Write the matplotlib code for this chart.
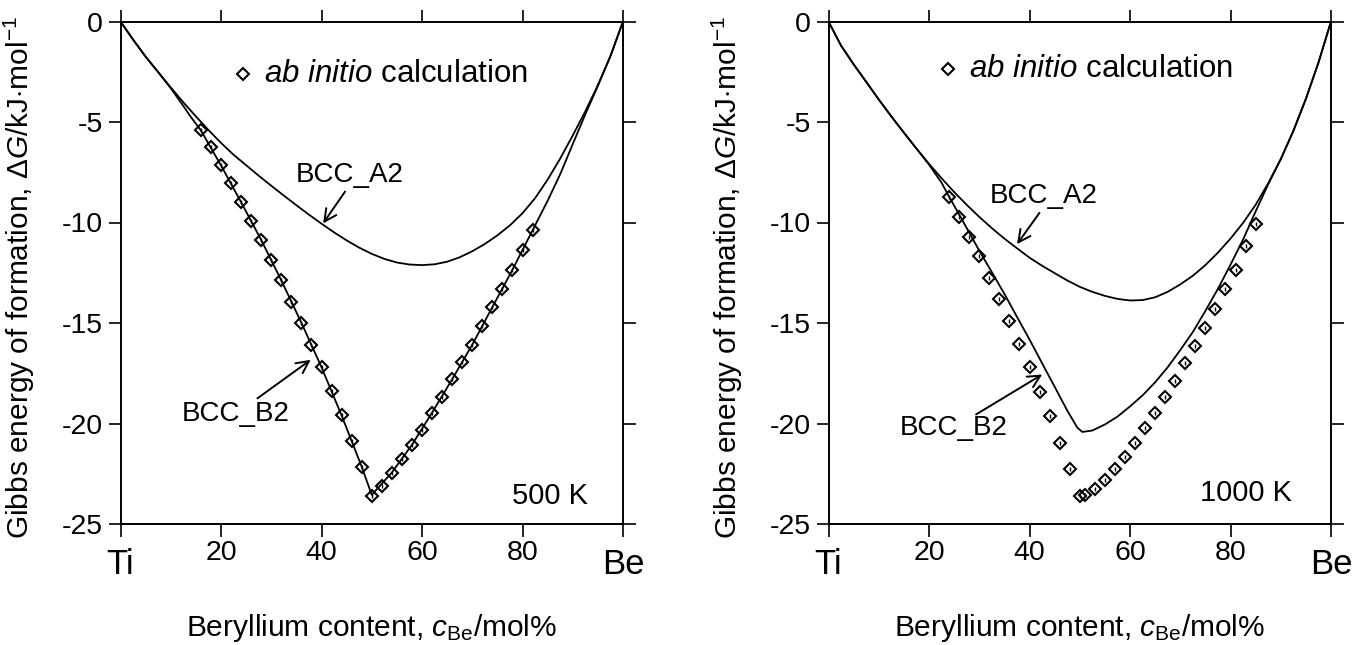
import matplotlib
matplotlib.use('Agg')
import matplotlib.pyplot as plt
from matplotlib.transforms import blended_transform_factory

plt.rcParams['font.family'] = ['Liberation Sans', 'DejaVu Sans']
plt.rcParams['mathtext.fontset'] = 'custom'
plt.rcParams['mathtext.rm'] = 'Liberation Sans'
plt.rcParams['mathtext.it'] = 'Liberation Sans:italic'
plt.rcParams['axes.unicode_minus'] = False

# composition grid for the calculated curves (mol% Be)
xa = [0, 2.5, 5, 7.5, 10, 12.5, 15, 17.5, 20, 22.5, 25, 27.5, 30, 32.5, 35, 37.5, 40,
      42.5, 45, 47.5, 50, 52.5, 55, 57.5, 60, 62.5, 65, 67.5, 70, 72.5, 75, 77.5, 80,
      82.5, 85, 87.5, 90, 92.5, 95, 97.5, 100]

# 500 K
a2_500 = [0, -0.9, -1.75, -2.52, -3.28, -4.02, -4.72, -5.4, -6.04, -6.63, -7.15, -7.67, -8.17,
          -8.66, -9.14, -9.61, -10.06, -10.49, -10.89, -11.25, -11.56, -11.81, -11.99, -12.09,
          -12.12, -12.08, -11.95, -11.73, -11.43, -11.07, -10.64, -10.14, -9.54, -8.79, -7.87,
          -6.82, -5.67, -4.47, -3.17, -1.72, 0]
xb_500 = [0, 2.5, 5, 7.5, 10, 12.5, 14, 16, 20, 24, 28, 32, 36, 40, 44, 48, 50, 54, 58, 62,
          66, 70, 74, 78, 82, 85, 87.5, 90, 92.5, 95, 97.5, 100]
b2_500 = [0, -0.9, -1.75, -2.52, -3.32, -4.2, -4.75, -5.42, -7.16, -8.99, -10.87, -12.88,
          -14.99, -17.2, -19.6, -22.15, -23.55, -22.44, -21.06, -19.46, -17.8, -16.08, -14.21,
          -12.35, -10.39, -8.92, -7.6, -6.1, -4.62, -3.2, -1.72, 0]
xd_500 = [16, 18, 20, 22, 24, 26, 28, 30, 32, 34, 36, 38, 40, 42, 44, 46, 48, 50,
          52, 54, 56, 58, 60, 62, 64, 66, 68, 70, 72, 74, 76, 78, 80, 82]
yd_500 = [-5.42, -6.25, -7.16, -8.05, -8.99, -9.93, -10.87, -11.87, -12.88, -13.94, -14.99,
          -16.09, -17.2, -18.39, -19.6, -20.87, -22.15, -23.63,
          -23.1, -22.44, -21.77, -21.06, -20.31, -19.46, -18.66, -17.8, -16.93, -16.08,
          -15.16, -14.21, -13.29, -12.35, -11.37, -10.39]

# 1000 K
a2_1000 = [0, -1.2, -2.13, -3.0, -3.88, -4.72, -5.53, -6.32, -7.08, -7.8, -8.48, -9.12, -9.72,
           -10.28, -10.8, -11.28, -11.75, -12.15, -12.52, -12.88, -13.2, -13.45, -13.65, -13.8,
           -13.88, -13.86, -13.72, -13.45, -13.08, -12.65, -12.12, -11.5, -10.8, -10.02, -9.12,
           -8.05, -6.85, -5.45, -3.85, -2.05, 0]
xb_1000 = [0, 2.5, 5, 7.5, 10, 12.5, 15, 17.5, 20, 22.5, 24, 26, 28, 30, 32.5, 35, 37.5, 40,
           42.5, 45, 47.5, 49.5, 50.5, 52.5, 55, 57.5, 60, 62.5, 65, 67.5, 70, 72.5, 75, 77.5,
           80, 82.5, 85, 87.5, 90, 92.5, 95, 97.5, 100]
b2_1000 = [0, -1.2, -2.13, -3.0, -3.88, -4.72, -5.53, -6.32, -7.12, -8.02, -8.72, -9.6, -10.5,
           -11.4, -12.47, -13.55, -14.69, -15.82, -17.0, -18.17, -19.35, -20.2, -20.42, -20.35,
           -20.05, -19.66, -19.15, -18.6, -17.95, -17.2, -16.35, -15.45, -14.4, -13.3, -12.1,
           -10.85, -9.45, -8.1, -6.85, -5.45, -3.85, -2.05, 0]
xd_1000 = [24, 26, 28, 30, 32, 34, 36, 38, 40, 42, 44, 46, 48, 50, 51,
           53, 55, 57, 59, 61, 63, 65, 67, 69, 71, 73, 75, 77, 79, 81, 83, 85]
yd_1000 = [-8.74, -9.71, -10.71, -11.68, -12.75, -13.81, -14.88, -16.03, -17.19, -18.41,
           -19.65, -20.95, -22.25, -23.62, -23.58,
           -23.26, -22.82, -22.25, -21.66, -20.95, -20.24, -19.48, -18.68, -17.9, -16.99,
           -16.12, -15.23, -14.29, -13.32, -12.34, -11.15, -10.09]

xticks = [0, 20, 40, 60, 80, 100]
xticklabels = ['', '20', '40', '60', '80', '']
yticks = [0, -5, -10, -15, -20, -25]

panels = [
    dict(a2=a2_500, xb=xb_500, b2=b2_500, xd=xd_500, yd=yd_500, temp='500 K',
         leg=(24.4, -2.63), leg_txt=28.5,
         a2_lab=(45.6, -7.64), a2_arr=((45.0, -8.35), (40.0, -10.16)),
         b2_lab=(22.9, -19.55), b2_arr=((26.8, -18.83), (38.3, -16.75)),
         temp_pos=(93.0, -23.6)),
    dict(a2=a2_1000, xb=xb_1000, b2=b2_1000, xd=xd_1000, yd=yd_1000, temp='1000 K',
         leg=(23.8, -2.34), leg_txt=28.0,
         a2_lab=(42.8, -8.7), a2_arr=((42.3, -9.41), (37.2, -11.19)),
         b2_lab=(25.0, -20.24), b2_arr=((28.9, -19.62), (43.0, -17.49)),
         temp_pos=(92.2, -23.45)),
]

fig = plt.figure(figsize=(13.59, 6.45), dpi=100)
lefts = [120.5 / 1359, 828.5 / 1359]

for left, p in zip(lefts, panels):
    ax = fig.add_axes([left, 1 - 524 / 645, 502.5 / 1359, 502.5 / 645])
    ax.plot(xa, p['a2'], color='black', lw=1.3)
    ax.plot(p['xb'], p['b2'], color='black', lw=1.3)
    ax.plot(p['xd'], p['yd'], ls='none', marker='D', ms=6, mfc='none', mec='black', mew=1.5)
    ax.plot(p['xd'], p['yd'], ls='none', marker=(2, 0, 0), ms=3, mec='black', mew=1.0)

    ax.set_xlim(0, 100)
    ax.set_ylim(-25, 0)
    ax.set_xticks(xticks)
    ax.set_xticklabels(xticklabels)
    ax.set_yticks(yticks)
    ax.set_yticklabels([str(t) for t in yticks])
    ax.tick_params(direction='out', length=9, width=1.2, labelsize=20.5, top=True, right=True)
    ax.tick_params(axis='x', pad=2.5)
    ax.tick_params(axis='y', pad=3.5)
    for s in ax.spines.values():
        s.set_linewidth(1.4)

    trans = blended_transform_factory(ax.transData, ax.transAxes)
    ax.text(0, -0.048, 'Ti', transform=trans, ha='center', va='top', fontsize=25)
    ax.text(100, -0.048, 'Be', transform=trans, ha='center', va='top', fontsize=25)

    ax.set_xlabel(r'Beryllium content, $c_{\mathrm{Be}}$/mol%', fontsize=21.5)
    ax.xaxis.set_label_coords(0.5, -0.176)
    ax.set_ylabel(r'Gibbs energy of formation, $\Delta G$/kJ$\cdot$mol$^{-1}$', fontsize=21.5)
    ax.yaxis.set_label_coords(-0.166, 0.49)

    ax.plot([p['leg'][0]], [p['leg'][1]], ls='none', marker='D', ms=6, mfc='none',
            mec='black', mew=1.5)
    ax.text(p['leg_txt'], p['leg'][1], r'$ab\ initio$ calculation', fontsize=22.5,
            ha='left', va='center')

    ax.text(p['a2_lab'][0], p['a2_lab'][1], 'BCC_A2', fontsize=20, ha='center', va='center')
    ax.annotate('', xy=p['a2_arr'][1], xytext=p['a2_arr'][0],
                arrowprops=dict(arrowstyle='->', lw=1.4, mutation_scale=22, color='black'))
    ax.text(p['b2_lab'][0], p['b2_lab'][1], 'BCC_B2', fontsize=20, ha='center', va='center')
    ax.annotate('', xy=p['b2_arr'][1], xytext=p['b2_arr'][0],
                arrowprops=dict(arrowstyle='->', lw=1.4, mutation_scale=22, color='black'))
    ax.text(p['temp_pos'][0], p['temp_pos'][1], p['temp'], fontsize=21, ha='right', va='center')

fig.savefig('out.png', dpi=100)
